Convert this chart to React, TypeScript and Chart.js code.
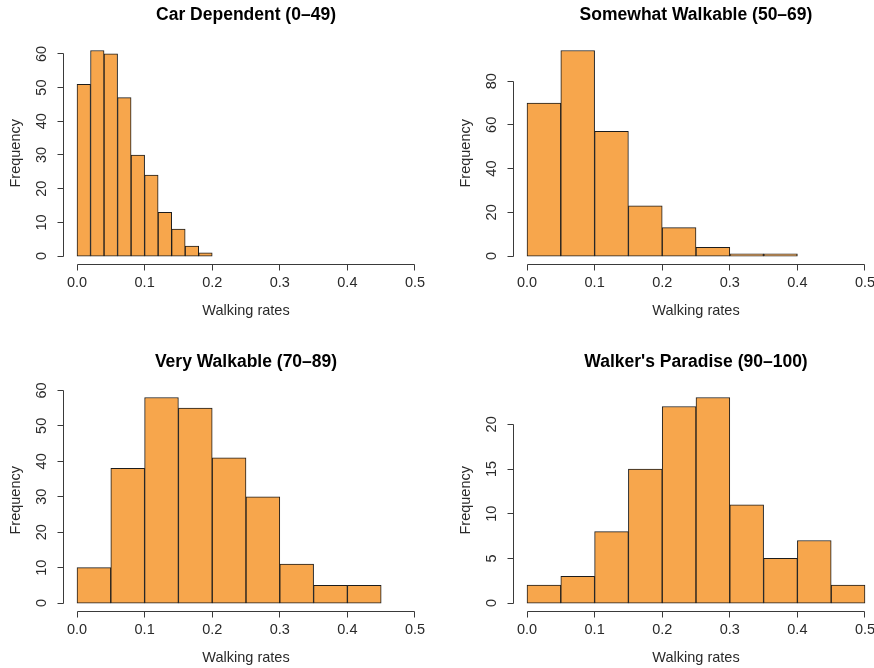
import React, { useEffect, useRef } from "react";
import { Chart, registerables } from "chart.js";

Chart.register(...registerables);

// ---- data ----
const xTickValues = [0, 0.1, 0.2, 0.3, 0.4, 0.5];
const xTickLabels = ["0.0", "0.1", "0.2", "0.3", "0.4", "0.5"];

const carDependentTitle = "Car Dependent (0\u201349)";
const carDependentBinWidth = 0.02;
const carDependentCounts = [51, 61, 60, 47, 30, 24, 13, 8, 3, 1];
const carDependentYTicks = [0, 10, 20, 30, 40, 50, 60];

const somewhatWalkableTitle = "Somewhat Walkable (50\u201369)";
const somewhatWalkableBinWidth = 0.05;
const somewhatWalkableCounts = [70, 94, 57, 23, 13, 4, 1, 1];
const somewhatWalkableYTicks = [0, 20, 40, 60, 80];

const veryWalkableTitle = "Very Walkable (70\u201389)";
const veryWalkableBinWidth = 0.05;
const veryWalkableCounts = [10, 38, 58, 55, 41, 30, 11, 5, 5];
const veryWalkableYTicks = [0, 10, 20, 30, 40, 50, 60];

const walkersParadiseTitle = "Walker's Paradise (90\u2013100)";
const walkersParadiseBinWidth = 0.05;
const walkersParadiseCounts = [2, 3, 8, 15, 22, 23, 11, 5, 7, 2];
const walkersParadiseYTicks = [0, 5, 10, 15, 20];

const xAxisTitle = "Walking rates";
const yAxisTitle = "Frequency";

// ---- styling ----
const FONT = '"Liberation Sans", Arial, Helvetica, sans-serif';
const BAR_FILL = "#F7A64C";
const BAR_EDGE = "#1c1c1c";
const AXIS_COLOR = "#3a3a3a";
const TEXT_COLOR = "#2a2a2a";
const PANEL_W = 450;
const PANEL_H = 347;

const rAxesPlugin = {
  id: "rAxes",
  afterDraw(chart: any, _args: any, opts: any) {
    const { ctx, chartArea, scales } = chart;
    const xs = scales.x;
    const ys = scales.y;
    const snap = (v: number) => Math.floor(v) + 0.5;
    ctx.save();
    ctx.strokeStyle = AXIS_COLOR;
    ctx.lineWidth = 1;

    // x axis
    const ay = snap(chartArea.bottom);
    const xFirst = snap(xs.getPixelForValue(xTickValues[0]));
    const xLast = snap(xs.getPixelForValue(xTickValues[xTickValues.length - 1]));
    ctx.beginPath();
    ctx.moveTo(xFirst, ay);
    ctx.lineTo(xLast, ay);
    xTickValues.forEach((v) => {
      const px = snap(xs.getPixelForValue(v));
      ctx.moveTo(px, ay);
      ctx.lineTo(px, ay + 6);
    });
    ctx.stroke();

    ctx.fillStyle = TEXT_COLOR;
    ctx.font = `14.5px ${FONT}`;
    ctx.textAlign = "center";
    ctx.textBaseline = "middle";
    xTickValues.forEach((v, i) => {
      ctx.fillText(xTickLabels[i], xs.getPixelForValue(v), chartArea.bottom + 19);
    });
    ctx.fillText(xAxisTitle, (chartArea.left + chartArea.right) / 2, chartArea.bottom + 47);

    // y axis
    const ax = snap(chartArea.left);
    const yTicks: number[] = opts.yTicks;
    const yFirst = snap(ys.getPixelForValue(yTicks[0]));
    const yLast = snap(ys.getPixelForValue(yTicks[yTicks.length - 1]));
    ctx.beginPath();
    ctx.moveTo(ax, yFirst);
    ctx.lineTo(ax, yLast);
    yTicks.forEach((v) => {
      const py = snap(ys.getPixelForValue(v));
      ctx.moveTo(ax, py);
      ctx.lineTo(ax - 6, py);
    });
    ctx.stroke();

    yTicks.forEach((v) => {
      ctx.save();
      ctx.translate(chartArea.left - 21.5, ys.getPixelForValue(v));
      ctx.rotate(-Math.PI / 2);
      ctx.fillText(String(v), 0, 0);
      ctx.restore();
    });
    ctx.save();
    ctx.translate(chartArea.left - 47.5, (chartArea.top + chartArea.bottom) / 2);
    ctx.rotate(-Math.PI / 2);
    ctx.fillText(yAxisTitle, 0, 0);
    ctx.restore();

    // title
    ctx.fillStyle = "#000";
    ctx.font = `bold 17.5px ${FONT}`;
    ctx.fillText(opts.title, (chartArea.left + chartArea.right) / 2, chartArea.top - 27);
    ctx.restore();
  },
};

type PanelProps = {
  left: number;
  top: number;
  title: string;
  binWidth: number;
  counts: number[];
  yTicks: number[];
};

function Panel({ left, top, title, binWidth, counts, yTicks }: PanelProps) {
  const ref = useRef<HTMLCanvasElement | null>(null);
  useEffect(() => {
    if (!ref.current) return;
    const maxCount = Math.max(...counts);
    const points = counts.map((c, i) => ({ x: binWidth * i + binWidth / 2, y: c }));
    const chart = new Chart(ref.current, {
      type: "bar",
      data: {
        datasets: [
          {
            data: points as any,
            backgroundColor: BAR_FILL,
            borderColor: BAR_EDGE,
            borderWidth: 1,
            borderSkipped: false,
            barPercentage: 1,
            categoryPercentage: 1,
          },
        ],
      },
      options: {
        animation: false,
        responsive: false,
        devicePixelRatio: 1,
        layout: { padding: { left: 63.5, right: PANEL_W - 428.5, top: 42.3, bottom: PANEL_H - 264.3 } },
        plugins: {
          legend: { display: false },
          tooltip: { enabled: false },
          title: { display: false },
          rAxes: { title, yTicks },
        } as any,
        scales: {
          x: {
            type: "linear",
            display: false,
            offset: false,
            min: -0.02,
            max: 0.52,
            grid: { offset: false },
            afterBuildTicks: (scale: any) => {
              scale.ticks = xTickValues.map((v) => ({ value: v }));
            },
          },
          y: {
            type: "linear",
            display: false,
            offset: false,
            min: -0.04 * maxCount,
            max: 1.04 * maxCount,
            afterBuildTicks: (scale: any) => {
              scale.ticks = yTicks.map((v) => ({ value: v }));
            },
          },
        },
      },
      plugins: [rAxesPlugin as any],
    });
    return () => chart.destroy();
  }, [title, binWidth, counts, yTicks]);

  return (
    <canvas
      ref={ref}
      width={PANEL_W}
      height={PANEL_H}
      style={{ position: "absolute", left, top, width: PANEL_W, height: PANEL_H }}
    />
  );
}

export default function App() {
  return (
    <div
      style={{
        position: "fixed",
        left: 0,
        top: 0,
        width: 874,
        height: 668,
        overflow: "hidden",
        background: "#fff",
      }}
    >
      <Panel left={0} top={0} title={carDependentTitle} binWidth={carDependentBinWidth} counts={carDependentCounts} yTicks={carDependentYTicks} />
      <Panel left={450} top={0} title={somewhatWalkableTitle} binWidth={somewhatWalkableBinWidth} counts={somewhatWalkableCounts} yTicks={somewhatWalkableYTicks} />
      <Panel left={0} top={347} title={veryWalkableTitle} binWidth={veryWalkableBinWidth} counts={veryWalkableCounts} yTicks={veryWalkableYTicks} />
      <Panel left={450} top={347} title={walkersParadiseTitle} binWidth={walkersParadiseBinWidth} counts={walkersParadiseCounts} yTicks={walkersParadiseYTicks} />
    </div>
  );
}
